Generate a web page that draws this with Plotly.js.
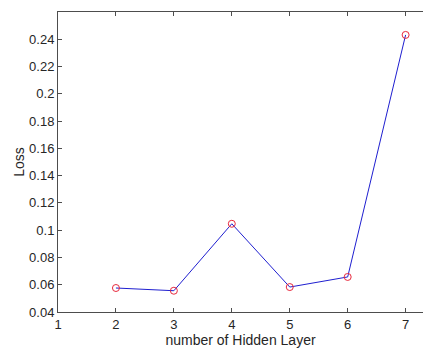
<!DOCTYPE html>
<html><head><meta charset="utf-8">
<script src="https://cdn.plot.ly/plotly-3.0.1.min.js"></script>
<style>html,body{margin:0;padding:0;background:#fff}#chart{width:423px;height:350px}</style>
</head><body><div id="chart"></div>
<script>
const hiddenLayers = [2, 3, 4, 5, 6, 7];
const lossValues = [0.0576, 0.0556, 0.1047, 0.0583, 0.0657, 0.2432];
const xTickVals = [1, 2, 3, 4, 5, 6, 7];
const yTickVals = [0.04, 0.06, 0.08, 0.1, 0.12, 0.14, 0.16, 0.18, 0.2, 0.22, 0.24];

const axisColor = '#4d4d4d';
const textColor = '#262626';
const font = {family: 'Liberation Sans, Arial, sans-serif', size: 13, color: textColor};

Plotly.newPlot('chart', [
  {x: hiddenLayers, y: lossValues, type: 'scatter', mode: 'lines',
   line: {color: '#1f1fd0', width: 1}, hoverinfo: 'skip', showlegend: false},
  {x: hiddenLayers, y: lossValues, type: 'scatter', mode: 'markers',
   marker: {symbol: 'circle-open', size: 7, color: '#e8283c', line: {width: 1, color: '#e8283c'}},
   showlegend: false}
], {
  width: 423, height: 350,
  margin: {l: 58, r: 0, t: 12, b: 38},
  paper_bgcolor: '#fff', plot_bgcolor: '#fff',
  font: font,
  xaxis: {range: [1, 7.3], tickvals: xTickVals, ticks: 'inside', ticklen: 4, tickcolor: axisColor,
          showline: true, linecolor: axisColor, linewidth: 1, mirror: 'ticks', showgrid: false, zeroline: false,
          tickfont: font, title: {text: 'number of Hidden Layer', font: {family: font.family, size: 14, color: textColor}, standoff: 4}},
  yaxis: {range: [0.04, 0.26], tickvals: yTickVals, ticks: 'inside', ticklen: 4, tickcolor: axisColor,
          showline: true, linecolor: axisColor, linewidth: 1, showgrid: false, zeroline: false,
          tickfont: font, title: {text: 'Loss', font: {family: font.family, size: 14, color: textColor}, standoff: 1}}
}, {displayModeBar: false, staticPlot: true});
</script></body></html>
